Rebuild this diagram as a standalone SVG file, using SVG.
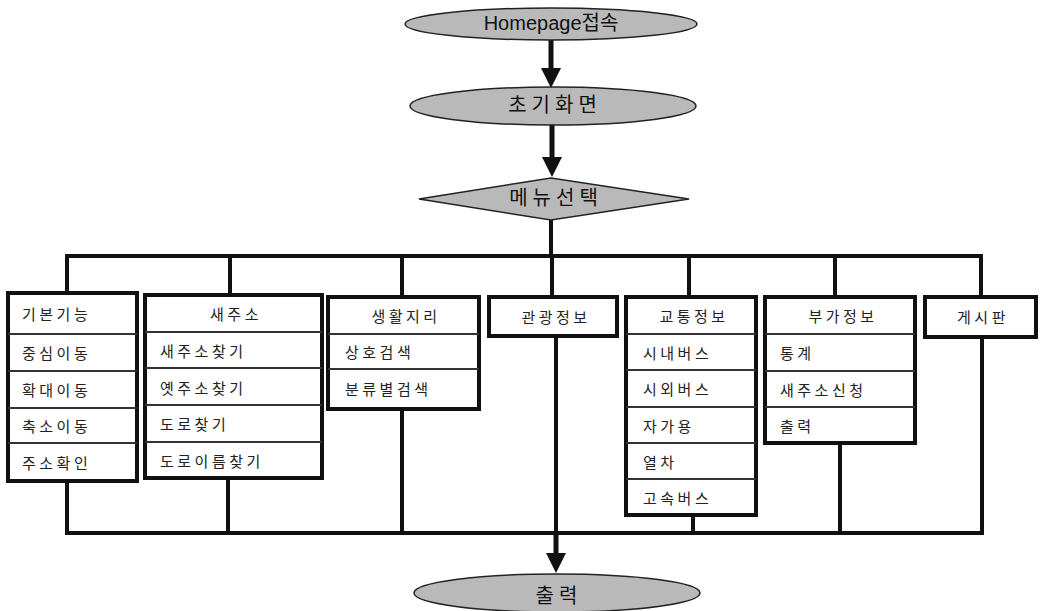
<svg xmlns="http://www.w3.org/2000/svg" width="1041" height="611" viewBox="0 0 1041 611">
<style>
.term{fill:#b9b9b9;stroke:#222;stroke-width:1.5}
.box{fill:#fff;stroke:#111;stroke-width:4}
.div{stroke:#333;stroke-width:2}
.t{font-family:"Noto Sans CJK KR","Liberation Sans",sans-serif;font-size:15px;fill:#222;letter-spacing:3.5px;dominant-baseline:central}
.h{font-family:"Liberation Sans","Noto Sans CJK KR",sans-serif;font-size:20px;fill:#111;text-anchor:middle;dominant-baseline:central}
.c{text-anchor:middle}
.ln{stroke:#111;stroke-width:4;fill:none}
.ar{stroke:#111;stroke-width:5;fill:none}
</style>
<defs>
<marker id="ah" markerWidth="4" markerHeight="4" refX="2" refY="2" orient="auto" markerUnits="strokeWidth" viewBox="0 0 4 4">
<path d="M0,0 L4,2 L0,4 Z" fill="#111"/>
</marker>
</defs>
<g id="connectors">
<line class="ar" x1="551" y1="40" x2="551" y2="78" marker-end="url(#ah)"/>
<line class="ar" x1="552" y1="125" x2="552" y2="167" marker-end="url(#ah)"/>
<line class="ln" x1="551" y1="219" x2="551" y2="256"/>
<polyline class="ln" points="67,293 67,256 981,256 981,297"/>
<line class="ln" x1="230" y1="256" x2="230" y2="295"/>
<line class="ln" x1="402" y1="256" x2="402" y2="297"/>
<line class="ln" x1="552" y1="256" x2="552" y2="297"/>
<line class="ln" x1="689" y1="256" x2="689" y2="297"/>
<line class="ln" x1="835" y1="256" x2="835" y2="297"/>
<polyline class="ln" points="67,481 67,533 982,533 982,337"/>
<line class="ln" x1="228" y1="478" x2="228" y2="533"/>
<line class="ln" x1="402" y1="409" x2="402" y2="533"/>
<line class="ln" x1="556" y1="336" x2="556" y2="533"/>
<line class="ln" x1="693" y1="515" x2="693" y2="533"/>
<line class="ln" x1="840" y1="443" x2="840" y2="533"/>
<line class="ar" x1="556" y1="533" x2="556" y2="563" marker-end="url(#ah)"/>
</g>
<g id="n-homepage">
<ellipse class="term" cx="551" cy="24" rx="146" ry="16"/>
<text class="h" x="551" y="23">Homepage접속</text>
</g>
<g id="n-init">
<ellipse class="term" cx="553" cy="106" rx="143" ry="19"/>
<text class="h" x="555" y="105" style="letter-spacing:5px">초기화면</text>
</g>
<g id="n-menu">
<polygon class="term" points="419,199 551,178 689,199 551,220"/>
<text class="h" x="556" y="198" style="letter-spacing:5px">메뉴선택</text>
</g>
<g id="n-basic">
<rect class="box" x="8" y="293" width="129" height="188"/>
<line class="div" x1="8" y1="334" x2="137" y2="334"/>
<line class="div" x1="8" y1="371" x2="137" y2="371"/>
<line class="div" x1="8" y1="408" x2="137" y2="408"/>
<line class="div" x1="8" y1="443" x2="137" y2="443"/>
<text class="t" x="22" y="313">기본기능</text>
<text class="t" x="22" y="352">중심이동</text>
<text class="t" x="22" y="389">확대이동</text>
<text class="t" x="22" y="425">축소이동</text>
<text class="t" x="22" y="462">주소확인</text>
</g>
<g id="n-newaddr">
<rect class="box" x="145" y="295" width="177" height="183"/>
<line class="div" x1="145" y1="332" x2="322" y2="332"/>
<line class="div" x1="145" y1="368" x2="322" y2="368"/>
<line class="div" x1="145" y1="405" x2="322" y2="405"/>
<line class="div" x1="145" y1="442" x2="322" y2="442"/>
<text class="t c" x="236" y="313">새주소</text>
<text class="t" x="160" y="350">새주소찾기</text>
<text class="t" x="160" y="387">옛주소찾기</text>
<text class="t" x="160" y="423">도로찾기</text>
<text class="t" x="160" y="460">도로이름찾기</text>
</g>
<g id="n-life">
<rect class="box" x="328" y="297" width="151" height="112"/>
<line class="div" x1="328" y1="334" x2="479" y2="334"/>
<line class="div" x1="328" y1="369" x2="479" y2="369"/>
<text class="t c" x="406" y="315">생활지리</text>
<text class="t" x="345" y="351">상호검색</text>
<text class="t" x="345" y="388">분류별검색</text>
</g>
<g id="n-tour">
<rect class="box" x="489" y="297" width="128" height="39"/>
<text class="t c" x="556" y="316">관광정보</text>
</g>
<g id="n-traffic">
<rect class="box" x="626" y="297" width="130" height="218"/>
<line class="div" x1="626" y1="334" x2="756" y2="334"/>
<line class="div" x1="626" y1="370" x2="756" y2="370"/>
<line class="div" x1="626" y1="407" x2="756" y2="407"/>
<line class="div" x1="626" y1="443" x2="756" y2="443"/>
<line class="div" x1="626" y1="479" x2="756" y2="479"/>
<text class="t c" x="694" y="315">교통정보</text>
<text class="t" x="643" y="352">시내버스</text>
<text class="t" x="643" y="388">시외버스</text>
<text class="t" x="643" y="425">자가용</text>
<text class="t" x="643" y="461">열차</text>
<text class="t" x="643" y="497">고속버스</text>
</g>
<g id="n-extra">
<rect class="box" x="765" y="297" width="150" height="146"/>
<line class="div" x1="765" y1="334" x2="915" y2="334"/>
<line class="div" x1="765" y1="371" x2="915" y2="371"/>
<line class="div" x1="765" y1="407" x2="915" y2="407"/>
<text class="t c" x="843" y="315">부가정보</text>
<text class="t" x="780" y="352">통계</text>
<text class="t" x="780" y="389">새주소신청</text>
<text class="t" x="780" y="425">출력</text>
</g>
<g id="n-board">
<rect class="box" x="925" y="297" width="111" height="40"/>
<text class="t c" x="983" y="316">게시판</text>
</g>
<g id="n-output">
<ellipse class="term" cx="557" cy="593" rx="143" ry="19"/>
<text class="h" x="559" y="596" style="letter-spacing:5px">출력</text>
</g>
</svg>
